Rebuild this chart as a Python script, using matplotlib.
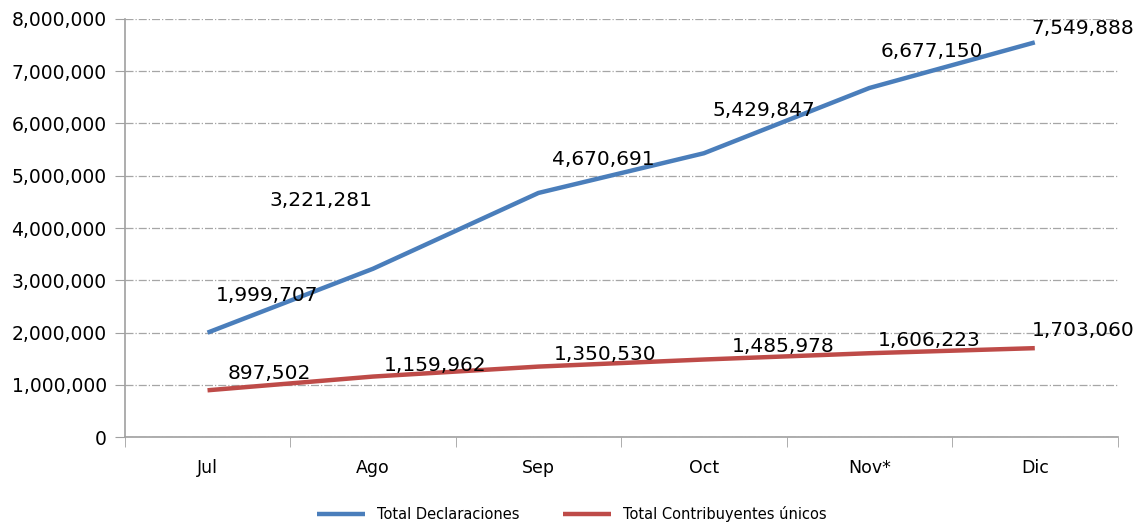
import numpy as np
import matplotlib.pyplot as plt
from matplotlib.ticker import FuncFormatter

# Data
months = ['Jul', 'Ago', 'Sep', 'Oct', 'Nov*', 'Dic']
declaraciones = [1999707, 3221281, 4670691, 5429847, 6677150, 7549888]
contribuyentes = [897502, 1159962, 1350530, 1485978, 1606223, 1703060]

# label offsets in pixels (dx, dy)
off_decl = [(60, 37), (-52, 68), (65, 33), (60, 43), (63, 37), (48, 14)]
off_contr = [(62, 17), (62, 11), (67, 12), (79, 13), (60, 13), (48, 18)]

fig = plt.figure(figsize=(11.45, 5.23), dpi=100)
ax = fig.add_axes([0.109, 0.164, 0.867, 0.8])

x = np.arange(len(months))
ax.plot(x, declaraciones, color='#4a7ebb', lw=3.2, label='Total Declaraciones', solid_capstyle='butt')
ax.plot(x, contribuyentes, color='#be4b48', lw=3.2, label='Total Contribuyentes únicos', solid_capstyle='butt')

for xi, v, o in zip(x, declaraciones, off_decl):
    ax.annotate(f'{v:,}', (xi, v), xytext=o, textcoords='offset pixels',
                ha='center', va='center', fontsize=14.5, color='black')
for xi, v, o in zip(x, contribuyentes, off_contr):
    ax.annotate(f'{v:,}', (xi, v), xytext=o, textcoords='offset pixels',
                ha='center', va='center', fontsize=14.5, color='black')

ax.set_xlim(-0.5, 5.5)
ax.set_ylim(0, 8000000)
ax.set_yticks(np.arange(0, 8000001, 1000000))
ax.yaxis.set_major_formatter(FuncFormatter(lambda v, p: f'{int(v):,}'))
ax.set_xticks(x)
ax.set_xticklabels(months)
ax.set_xticks(np.arange(-0.5, 6, 1), minor=True)
ax.tick_params(axis='x', which='major', length=0, pad=16, labelsize=12.5)
ax.tick_params(axis='x', which='minor', length=7, color='#a0a0a0', direction='out')
ax.tick_params(axis='y', length=7, color='#a0a0a0', labelsize=13.5, pad=6)

ax.grid(axis='y', linestyle='-.', color='#a6a6a6', lw=0.9)
ax.set_axisbelow(True)
for s in ['top', 'right']:
    ax.spines[s].set_visible(False)
for s in ['left', 'bottom']:
    ax.spines[s].set_color('#a0a0a0')
    ax.spines[s].set_linewidth(1.2)

ax.legend(loc='lower center', bbox_to_anchor=(0.45, -0.235), ncol=2, frameon=False,
          fontsize=10.5, handlelength=3.3, columnspacing=3.0)

fig.savefig('out.png', dpi=100)
